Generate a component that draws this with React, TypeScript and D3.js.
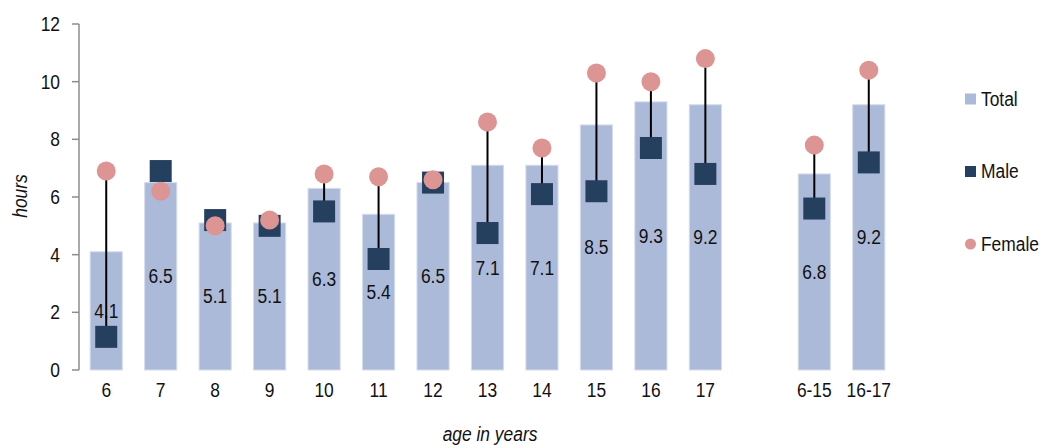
import React from "react";
import * as d3 from "d3";

const categories = ["6", "7", "8", "9", "10", "11", "12", "13", "14", "15", "16", "17", "", "6-15", "16-17"];
const totalValues = [4.1, 6.5, 5.1, 5.1, 6.3, 5.4, 6.5, 7.1, 7.1, 8.5, 9.3, 9.2, null, 6.8, 9.2];
const maleValues = [1.15, 6.9, 5.2, 5.0, 5.5, 3.85, 6.5, 4.75, 6.1, 6.2, 7.7, 6.8, null, 5.6, 7.2];
const femaleValues = [6.9, 6.2, 5.0, 5.2, 6.8, 6.7, 6.6, 8.6, 7.7, 10.3, 10.0, 10.8, null, 7.8, 10.4];
const yTicks = [0, 2, 4, 6, 8, 10, 12];
const legendItems = ["Total", "Male", "Female"];

const W = 1040;
const H = 445;
const FONT = "'Liberation Sans', Arial, sans-serif";
const C_TOTAL = "#abbad8";
const C_MALE = "#253f5f";
const C_FEMALE = "#dc9593";
const SX = 0.87;

function NText({ x, y, anchor = "middle", italic = false, rotate = 0, children }: any) {
  return (
    <g transform={`translate(${x},${y}) rotate(${rotate}) scale(${SX},1)`}>
      <text x={0} y={0} textAnchor={anchor} dominantBaseline="central" fontSize={20} fontStyle={italic ? "italic" : "normal"} fill="#111">
        {children}
      </text>
    </g>
  );
}

export default function App() {
  const x = d3.scaleBand<string>().domain(categories.map((c, i) => c || `gap${i}`)).range([79, 896]).paddingInner(0.41).paddingOuter(0.205);
  const y = d3.scaleLinear().domain([0, 12]).range([370, 24]);
  const key = (i: number) => categories[i] || `gap${i}`;
  const bw = x.bandwidth();
  const sq = 22;
  const r = 9.5;

  return (
    <svg width={W} height={H} style={{ position: "absolute", left: 0, top: 0, fontFamily: FONT }}>
      {totalValues.map((v, i) =>
        v == null ? null : (
          <rect key={`b${i}`} x={x(key(i))!} y={y(v)} width={bw} height={y(0) - y(v)} fill={C_TOTAL} stroke="#d5dcec" strokeWidth={1} />
        )
      )}
      {totalValues.map((v, i) =>
        v == null ? null : (
          <NText key={`l${i}`} x={x(key(i))! + bw / 2} y={(y(v) + y(0)) / 2}>
            {v.toFixed(1)}
          </NText>
        )
      )}
      {maleValues.map((m, i) => {
        const f = femaleValues[i];
        if (m == null || f == null) return null;
        const cx = x(key(i))! + bw / 2;
        return <line key={`hl${i}`} x1={cx} x2={cx} y1={y(m)} y2={y(f)} stroke="#000" strokeWidth={2} />;
      })}
      {maleValues.map((m, i) =>
        m == null ? null : (
          <rect key={`m${i}`} x={x(key(i))! + bw / 2 - sq / 2} y={y(m) - sq / 2} width={sq} height={sq} fill={C_MALE} />
        )
      )}
      {femaleValues.map((f, i) =>
        f == null ? null : <circle key={`f${i}`} cx={x(key(i))! + bw / 2} cy={y(f)} r={r} fill={C_FEMALE} />
      )}
      <line x1={79} x2={79} y1={y(12)} y2={y(0)} stroke="#8c8c8c" strokeWidth={1.5} />
      {yTicks.map((t) => (
        <g key={`t${t}`}>
          <line x1={72} x2={79} y1={y(t)} y2={y(t)} stroke="#8c8c8c" strokeWidth={1.5} />
          <NText x={60} y={y(t)} anchor="end">
            {t}
          </NText>
        </g>
      ))}
      {categories.map((c, i) =>
        c ? (
          <NText key={`x${i}`} x={x(key(i))! + bw / 2} y={390}>
            {c}
          </NText>
        ) : null
      )}
      <NText x={490} y={434} italic>
        age in years
      </NText>
      <NText x={20} y={196} italic rotate={-90}>
        hours
      </NText>
      {legendItems.map((name, i) => {
        const ly = 99 + i * 72.5;
        return (
          <g key={`lg${i}`}>
            {i === 2 ? (
              <circle cx={970.5} cy={ly} r={5.5} fill={C_FEMALE} />
            ) : (
              <rect x={965} y={ly - 5.5} width={11} height={11} fill={i === 0 ? C_TOTAL : C_MALE} />
            )}
            <NText x={981} y={ly} anchor="start">
              {name}
            </NText>
          </g>
        );
      })}
    </svg>
  );
}
